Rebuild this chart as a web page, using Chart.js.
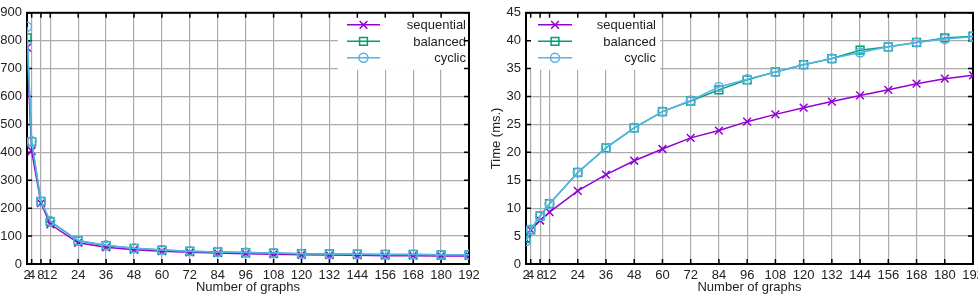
<!DOCTYPE html>
<html>
<head>
<meta charset="utf-8">
<script src="https://cdn.jsdelivr.net/npm/chart.js@4.4.1/dist/chart.umd.min.js"></script>
<style>
    html, body { margin: 0; padding: 0; background: #fff; overflow: hidden; width: 978px; height: 296px; }
    #leftChart { position: absolute; left: 0; top: 0; }
    #rightChart { position: absolute; left: 489px; top: 0; }
</style>
</head>
<body>
<canvas id="leftChart" width="489" height="296"></canvas>
<canvas id="rightChart" width="500" height="296"></canvas>
<script>
// --- data ---
const graphCounts = [2, 4, 8, 12, 24, 36, 48, 60, 72, 84, 96, 108, 120, 132, 144, 156, 168, 180, 192];
const seriesNames = ['sequential', 'balanced', 'cyclic'];

// left panel
const leftSequential = [775, 405, 218, 142, 76, 60, 51, 46, 42, 39, 37, 35, 33, 32, 31, 30, 30, 29, 29];
const leftBalanced   = [810, 438, 224, 152, 83, 66, 56, 50, 46, 43, 41, 39, 37, 36, 35, 34, 34, 33, 33];
const leftCyclic     = [850, 440, 224, 154, 84, 67, 56, 50, 46, 43, 41, 39, 37, 36, 35, 34, 34, 33, 33];

// right panel: Time (ms.)
const rightSequential = [4.4, 6.1, 7.8, 9.3, 13.1, 16.0, 18.5, 20.6, 22.6, 23.9, 25.5, 26.8, 28.0, 29.1, 30.2, 31.2, 32.3, 33.2, 33.8];
const rightBalanced   = [4.6, 6.1, 8.6, 10.8, 16.4, 20.8, 24.4, 27.3, 29.2, 31.2, 33.0, 34.4, 35.7, 36.8, 38.3, 38.9, 39.7, 40.5, 40.8];
const rightCyclic     = [4.1, 6.2, 8.6, 10.8, 16.4, 20.8, 24.4, 27.3, 29.3, 31.7, 33.1, 34.4, 35.7, 36.8, 37.9, 38.9, 39.7, 40.3, 40.7];

const FONT = '"Liberation Sans", Arial, sans-serif';
const TEXT = '#222';
const GRID = '#acacac';

// gnuplot-ish styles
const styles = [
    { color: '#9400d3', point: 'crossRot', radius: 5.5 },
    { color: '#009e73', point: 'rect', radius: 5.5 },
    { color: '#56b4e9', point: 'circle', radius: 4.5 }
];

function makeDatasets(seriesList) {
    return seriesList.map((vals, i) => ({
        label: seriesNames[i],
        data: graphCounts.map((x, j) => ({ x: x, y: vals[j] })),
        borderColor: styles[i].color,
        backgroundColor: 'rgba(0,0,0,0)',
        borderWidth: 1.5,
        pointStyle: styles[i].point,
        pointRadius: styles[i].radius,
        pointBorderWidth: 1.5,
        pointBorderColor: styles[i].color,
        pointBackgroundColor: 'rgba(0,0,0,0)',
        tension: 0,
        order: 3 - i // cyclic on top, like gnuplot
    }));
}

// white legend box + samples, inward tics and black frame
const framePlugin = {
    id: 'frame',
    beforeDatasetsDraw(chart, args, opts) {
        const { ctx, chartArea: a, scales } = chart;
        ctx.save();

        // legend
        const lg = opts.legend;
        const boxX = lg.side === 'right' ? a.right - lg.boxW : a.left;
        ctx.fillStyle = '#fff';
        ctx.fillRect(boxX, a.top, lg.boxW, lg.boxH);
        const lineX0 = lg.side === 'right' ? a.right + lg.line[0] : a.left + lg.line[0];
        const lineX1 = lg.side === 'right' ? a.right + lg.line[1] : a.left + lg.line[1];
        const textX = lg.side === 'right' ? a.right + lg.textX : a.left + lg.textX;
        ctx.font = '13px ' + FONT;
        ctx.textAlign = 'right';
        ctx.textBaseline = 'middle';
        seriesNames.forEach((name, i) => {
            const y = a.top + lg.rows[i];
            ctx.strokeStyle = styles[i].color;
            ctx.fillStyle = 'rgba(0,0,0,0)';
            ctx.lineWidth = 1.5;
            ctx.beginPath();
            ctx.moveTo(lineX0, y);
            ctx.lineTo(lineX1, y);
            ctx.stroke();
            Chart.helpers.drawPoint(ctx, {
                pointStyle: styles[i].point,
                radius: styles[i].radius,
                borderWidth: 1.5
            }, (lineX0 + lineX1) / 2, y);
            ctx.fillStyle = TEXT;
            ctx.fillText(name, textX, y + 1);
        });

        // inward tics on all four sides
        ctx.strokeStyle = '#000';
        ctx.lineWidth = 1.5;
        ctx.beginPath();
        scales.x.ticks.forEach(t => {
            const px = scales.x.getPixelForValue(t.value);
            ctx.moveTo(px, a.bottom); ctx.lineTo(px, a.bottom - 5);
            ctx.moveTo(px, a.top); ctx.lineTo(px, a.top + 5);
        });
        scales.y.ticks.forEach(t => {
            const py = scales.y.getPixelForValue(t.value);
            ctx.moveTo(a.left, py); ctx.lineTo(a.left + 5, py);
            ctx.moveTo(a.right, py); ctx.lineTo(a.right - 5, py);
        });
        ctx.stroke();

        ctx.lineWidth = 2;
        ctx.strokeRect(a.left, a.top, a.right - a.left, a.bottom - a.top);
        ctx.restore();
    }
};

function buildOptions(yCfg, legend) {
    return {
        responsive: false,
        animation: false,
        devicePixelRatio: 1,
        layout: { padding: { left: 0, top: 5, right: yCfg.padRight, bottom: 0 } },
        plugins: {
            legend: { display: false },
            tooltip: { enabled: false },
            frame: { legend: legend }
        },
        scales: {
            x: {
                type: 'linear',
                min: 2,
                max: 192,
                afterBuildTicks: (scale) => { scale.ticks = graphCounts.map(v => ({ value: v })); },
                afterFit: (scale) => { scale.height = 32; },
                grid: { color: GRID, lineWidth: 1.2, drawTicks: false },
                border: { display: false },
                ticks: {
                    autoSkip: false,
                    maxRotation: 0,
                    padding: 4,
                    color: TEXT,
                    font: { family: FONT, size: 13 },
                    callback: (v) => String(v)
                },
                title: {
                    display: true,
                    text: 'Number of graphs',
                    color: TEXT,
                    font: { family: FONT, size: 13 },
                    padding: { top: 0, bottom: 1 }
                }
            },
            y: {
                min: 0,
                max: yCfg.max,
                afterFit: (scale) => { scale.width = yCfg.width; },
                grid: { color: GRID, lineWidth: 1.2, drawTicks: false },
                border: { display: false },
                ticks: {
                    stepSize: yCfg.step,
                    padding: 5,
                    color: TEXT,
                    font: { family: FONT, size: 13 }
                },
                title: {
                    display: yCfg.title !== '',
                    text: yCfg.title,
                    color: TEXT,
                    font: { family: FONT, size: 13 },
                    padding: { top: 0, bottom: 0 }
                }
            }
        }
    };
}

document.addEventListener('DOMContentLoaded', function () {
    // --- 1. LEFT PANEL ---
    new Chart(document.getElementById('leftChart'), {
        type: 'line',
        data: { datasets: makeDatasets([leftSequential, leftBalanced, leftCyclic]) },
        options: buildOptions(
            { max: 900, step: 100, width: 27, padRight: 20, title: '' },
            { side: 'right', boxW: 131, boxH: 57, line: [-122, -89], textX: -3, rows: [12, 28.5, 45] }
        ),
        plugins: [framePlugin]
    });

    // --- 2. RIGHT PANEL (cut off at the window edge, like the original) ---
    new Chart(document.getElementById('rightChart'), {
        type: 'line',
        data: { datasets: makeDatasets([rightSequential, rightBalanced, rightCyclic]) },
        options: buildOptions(
            { max: 45, step: 5, width: 37, padRight: 16, title: 'Time (ms.)' },
            { side: 'left', boxW: 134, boxH: 57, line: [12, 46], textX: 130, rows: [12, 28.5, 45] }
        ),
        plugins: [framePlugin]
    });
});
</script>
</body>
</html>
